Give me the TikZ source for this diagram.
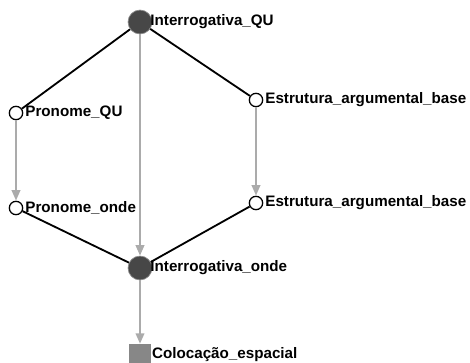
\documentclass[tikz,border=0pt]{standalone}
\usepackage{fontspec}
\setmainfont{Liberation Sans}
\usetikzlibrary{arrows.meta}

\tikzset{
  bigdot/.style={circle, fill=black!72, draw=black!45, line width=0.5pt, minimum size=17pt, inner sep=0pt},
  smalldot/.style={circle, fill=white, draw=black, line width=0.9pt, minimum size=9.5pt, inner sep=0pt},
  sqbox/.style={rectangle, fill=black!47, minimum size=15.5pt, inner sep=0pt},
  lbl/.style={font=\bfseries\fontsize{10.8}{12}\selectfont, inner sep=0.5pt},
  blackline/.style={line width=1.3pt, black},
  grayarrow/.style={line width=1.6pt, black!33, -{Triangle[length=7.5pt, width=6pt]}}
}

\begin{document}
\begin{tikzpicture}[x=0.025cm, y=-0.025cm]
			%%%%% START %%%%%
			
			\useasboundingbox (0, 0) rectangle (470, 363);
			
			\node[bigdot, label={[lbl, label distance=-2pt]0:Interrogativa\_QU}] (iqu) at (140, 22) {};
			\node[smalldot, label={[lbl, label distance=0.8pt]0:Pronome\_QU}] (pqu) at (16, 113) {};
			\node[smalldot, label={[lbl, label distance=0.8pt]0:Pronome\_onde}] (ponde) at (16, 208) {};
			\node[smalldot, label={[lbl, label distance=0.8pt]0:Estrutura\_argumental\_base}] (eab1) at (256, 100) {};
			\node[smalldot, label={[lbl, label distance=0.8pt]0:Estrutura\_argumental\_base}] (eab2) at (256, 203) {};
			\node[bigdot, label={[lbl, label distance=-2pt]0:Interrogativa\_onde}] (ionde) at (140, 268) {};
			\node[sqbox, label={[lbl, label distance=0pt]0:Colocação\_espacial}] (colesp) at (140, 355) {};
			
			\draw[blackline] (iqu) -- (pqu);
			\draw[blackline] (iqu) -- (eab1);
			\draw[blackline] (ponde) -- (ionde);
			\draw[blackline] (eab2) -- (ionde);
			
			\draw[grayarrow] (pqu) -- (ponde);
			\draw[grayarrow] (eab1) -- (eab2);
			\draw[grayarrow] (iqu) -- (ionde);
			\draw[grayarrow] (ionde) -- (colesp);
			
			%%%%% END %%%%%
\end{tikzpicture}
\end{document}
